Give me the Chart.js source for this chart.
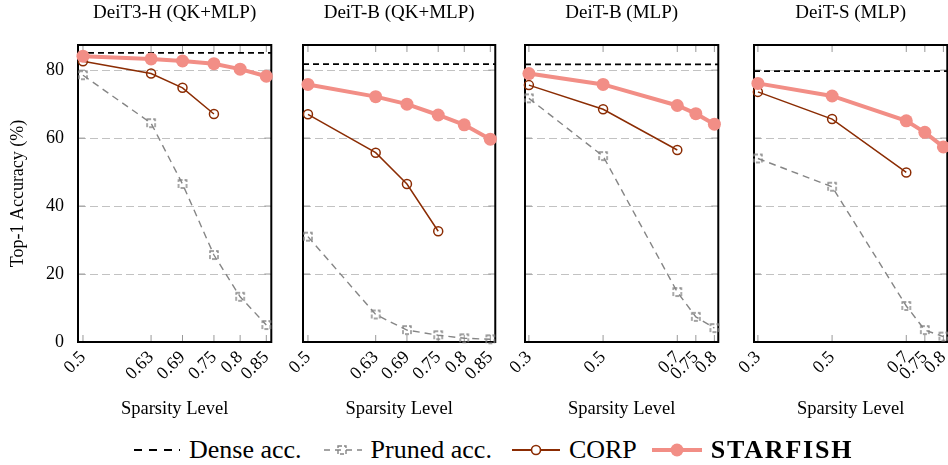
<!DOCTYPE html>
<html>
<head>
<meta charset="utf-8">
<script src="https://cdn.jsdelivr.net/npm/chart.js@4.4.1/dist/chart.umd.min.js"></script>
<style>
  body { margin: 0; background: #fff; width: 948px; height: 465px; overflow: hidden; position: relative;
         font-family: "Liberation Serif", "Times New Roman", serif; }
  canvas.panel { position: absolute; top: 0; }
  #legend { position: absolute; left: 133px; top: 432px; height: 36px; display: flex; align-items: center;
            font-size: 26px; color: #000; white-space: nowrap; }
  #legend .item { display: flex; align-items: center; margin-right: 20px; }
  #legend canvas { margin-right: 9px; }
</style>
</head>
<body>
<canvas id="c0" class="panel"></canvas>
<canvas id="c1" class="panel"></canvas>
<canvas id="c2" class="panel"></canvas>
<canvas id="c3" class="panel"></canvas>
<div id="legend">
  <div class="item"><canvas id="l0" width="47" height="20"></canvas><span>Dense acc.</span></div>
  <div class="item"><canvas id="l1" width="40" height="20"></canvas><span>Pruned acc.</span></div>
  <div class="item" style="margin-right:15px"><canvas id="l2" width="48" height="20"></canvas><span>CORP</span></div>
  <div class="item"><canvas id="l3" width="50" height="20"></canvas><span style="font-weight:bold;letter-spacing:1.8px">STARFISH</span></div>
</div>
<script>
// values
const titles = ['DeiT3-H (QK+MLP)', 'DeiT-B (QK+MLP)', 'DeiT-B (MLP)', 'DeiT-S (MLP)'];
const sparsityQK = [0.5, 0.63, 0.69, 0.75, 0.8, 0.85];
const sparsityMLP = [0.3, 0.5, 0.7, 0.75, 0.8];
const tickLabelsQK = ['0.5', '0.63', '0.69', '0.75', '0.8', '0.85'];
const tickLabelsMLP = ['0.3', '0.5', '0.7', '0.75', '0.8'];
const yTicks = [0, 20, 40, 60, 80];
const denseAcc = [85.1, 81.8, 81.7, 79.7];

const prunedH = [78.5, 64.4, 46.5, 25.6, 13.3, 5.0];
const corpH = [82.6, 79.0, 74.8, 67.1];
const starH = [84.1, 83.3, 82.7, 81.9, 80.3, 78.2];

const prunedBQK = [31.0, 8.1, 3.5, 2.0, 1.1, 0.8];
const corpBQK = [67.0, 55.7, 46.5, 32.6];
const starBQK = [75.8, 72.2, 70.0, 66.8, 63.9, 59.7];

const prunedBMLP = [71.7, 54.7, 14.7, 7.4, 4.1];
const corpBMLP = [75.6, 68.5, 56.5];
const starBMLP = [79.0, 75.8, 69.6, 67.2, 64.1];

const prunedSMLP = [54.0, 45.7, 10.6, 3.5, 1.6];
const corpSMLP = [73.6, 65.6, 49.9];
const starSMLP = [76.1, 72.4, 65.1, 61.7, 57.4];

const SALMON = '#f28e86';
const CORP_COLOR = '#8b2c03';
const GRAY = '#858585';
const FONT = "'Liberation Serif', 'Times New Roman', serif";

const panels = [
  { xs: sparsityQK, labels: tickLabelsQK, xMin: 0.4905, xMax: 0.8595, pruned: prunedH, corp: corpH, star: starH },
  { xs: sparsityQK, labels: tickLabelsQK, xMin: 0.4905, xMax: 0.8595, pruned: prunedBQK, corp: corpBQK, star: starBQK },
  { xs: sparsityMLP, labels: tickLabelsMLP, xMin: 0.2895, xMax: 0.8105, pruned: prunedBMLP, corp: corpBMLP, star: starBMLP },
  { xs: sparsityMLP, labels: tickLabelsMLP, xMin: 0.2895, xMax: 0.8105, pruned: prunedSMLP, corp: corpSMLP, star: starSMLP }
];
// canvas left, y-axis width, plot width
const boxes = [
  { left: 0, yw: 78, pw: 197 },
  { left: 262, yw: 41, pw: 196 },
  { left: 485, yw: 40, pw: 198 },
  { left: 714, yw: 40, pw: 198 }
];

// dashed square marker used by the pgfplots "Pruned" curve
function squareMarker() {
  const c = document.createElement('canvas');
  c.width = 12; c.height = 12;
  const g = c.getContext('2d');
  g.strokeStyle = GRAY;
  g.lineWidth = 1.4;
  g.setLineDash([4, 2]);
  g.strokeRect(2, 2, 8, 8);
  return c;
}
const pruneMark = squareMarker();

// frame and inward tick marks
const framePlugin = {
  id: 'frame',
  beforeDatasetsDraw(chart) {
    const { ctx, chartArea: a, scales: { x, y } } = chart;
    ctx.save();
    ctx.strokeStyle = '#999';
    ctx.lineWidth = 1;
    ctx.beginPath();
    x.ticks.forEach(t => {
      const px = x.getPixelForValue(t.value);
      ctx.moveTo(px, a.top); ctx.lineTo(px, a.top + 7);
      ctx.moveTo(px, a.bottom); ctx.lineTo(px, a.bottom - 7);
    });
    y.ticks.forEach(t => {
      const py = y.getPixelForValue(t.value);
      ctx.moveTo(a.left, py); ctx.lineTo(a.left + 7, py);
      ctx.moveTo(a.right, py); ctx.lineTo(a.right - 7, py);
    });
    ctx.stroke();
    ctx.strokeStyle = '#000';
    ctx.lineWidth = 2;
    ctx.strokeRect(a.left, a.top, a.width, a.height);
    ctx.restore();
  }
};

panels.forEach((p, i) => {
  const b = boxes[i];
  const canvas = document.getElementById('c' + i);
  canvas.width = b.yw + b.pw + 12;
  canvas.height = 422;
  canvas.style.left = b.left + 'px';
  const first = i === 0;
  const pts = ys => ys.map((v, k) => ({ x: p.xs[k], y: v }));

  new Chart(canvas, {
    type: 'line',
    data: {
      datasets: [
        {
          label: 'Dense acc.', order: 4,
          data: [{ x: p.xMin, y: denseAcc[i] }, { x: p.xMax, y: denseAcc[i] }],
          borderColor: '#000', borderWidth: 1.7, borderDash: [6, 4], pointRadius: 0
        },
        {
          label: 'Pruned acc.', order: 3, data: pts(p.pruned),
          borderColor: GRAY, borderWidth: 1.4, borderDash: [7, 5],
          pointStyle: pruneMark, pointRadius: 5
        },
        {
          label: 'CORP', order: 2, data: pts(p.corp),
          borderColor: CORP_COLOR, borderWidth: 1.5,
          pointRadius: 4.5, pointBorderWidth: 1.5, pointBorderColor: CORP_COLOR,
          pointBackgroundColor: 'rgba(0,0,0,0)'
        },
        {
          label: 'STARFISH', order: 1, data: pts(p.star),
          borderColor: SALMON, borderWidth: 4,
          pointRadius: 6.5, pointBorderWidth: 0, pointBackgroundColor: SALMON
        }
      ]
    },
    options: {
      responsive: false,
      animation: false,
      clip: false,
      layout: { autoPadding: false, padding: { left: 0, right: 12, top: 0, bottom: 0 } },
      elements: { line: { tension: 0 } },
      plugins: {
        legend: { display: false },
        tooltip: { enabled: false },
        title: {
          display: true, fullSize: false, text: titles[i], color: '#000',
          font: { family: FONT, size: 19, weight: 'normal' },
          padding: { top: 1.8, bottom: 20.4 }
        }
      },
      scales: {
        x: {
          type: 'linear', min: p.xMin, max: p.xMax,
          afterBuildTicks: s => { s.ticks = p.xs.map(v => ({ value: v })); },
          afterFit: s => { s.height = 80; },
          ticks: {
            autoSkip: false, minRotation: 45, maxRotation: 45, padding: 5, color: '#000',
            font: { family: FONT, size: 18 },
            callback: (v, k) => p.labels[k]
          },
          grid: { display: false, drawTicks: false },
          border: { display: false },
          title: {
            display: true, text: 'Sparsity Level', color: '#000',
            font: { family: FONT, size: 18.5 }, padding: { top: 0, bottom: 2 }
          }
        },
        y: {
          type: 'linear', min: 0, max: 87.4,
          afterBuildTicks: s => { s.ticks = yTicks.map(v => ({ value: v })); },
          afterFit: s => { s.width = b.yw; },
          ticks: { display: first, padding: 14, color: '#000', font: { family: FONT, size: 18 } },
          grid: { color: '#c2c2c2', lineWidth: 1, drawTicks: false },
          border: { display: false, dash: [8, 4] },
          title: {
            display: first, text: 'Top-1 Accuracy (%)', color: '#000',
            font: { family: FONT, size: 18 }, padding: { top: 7, bottom: 0 }
          }
        }
      }
    },
    plugins: [framePlugin]
  });
});

// legend samples
function sample(id, draw) {
  const g = document.getElementById(id).getContext('2d');
  draw(g, g.canvas.width, g.canvas.height / 2);
}
sample('l0', (g, w, m) => {
  g.strokeStyle = '#000'; g.lineWidth = 2; g.setLineDash([8, 7]);
  g.beginPath(); g.moveTo(1, m); g.lineTo(w, m); g.stroke();
});
sample('l1', (g, w, m) => {
  g.strokeStyle = GRAY; g.lineWidth = 1.4; g.setLineDash([6, 5]);
  g.beginPath(); g.moveTo(2, m); g.lineTo(w, m); g.stroke();
  g.setLineDash([]);
  g.drawImage(pruneMark, w / 2 - 6, m - 6);
});
sample('l2', (g, w, m) => {
  g.strokeStyle = CORP_COLOR; g.lineWidth = 2;
  g.beginPath(); g.moveTo(0, m); g.lineTo(w, m); g.stroke();
  g.lineWidth = 1.6; g.fillStyle = '#fff';
  g.beginPath(); g.arc(w / 2, m, 4.5, 0, Math.PI * 2); g.fill(); g.stroke();
});
sample('l3', (g, w, m) => {
  g.strokeStyle = SALMON; g.lineWidth = 4;
  g.beginPath(); g.moveTo(0, m); g.lineTo(w, m); g.stroke();
  g.fillStyle = SALMON;
  g.beginPath(); g.arc(w / 2, m, 6.5, 0, Math.PI * 2); g.fill();
});
</script>
</body>
</html>
